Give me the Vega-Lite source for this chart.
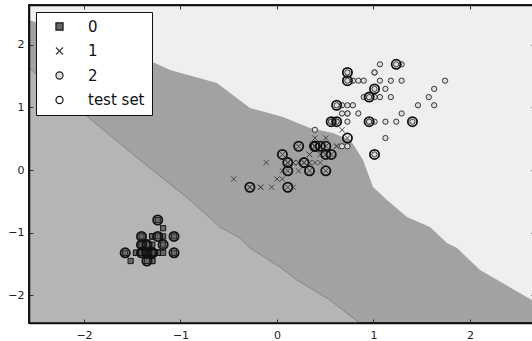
{
  "$schema": "https://vega.github.io/schema/vega-lite/v6.json",
  "width": 506,
  "height": 318,
  "autosize": "none",
  "padding": {"left": 29, "top": 5, "right": 0, "bottom": 18},
  "config": {
    "view": {"stroke": "#111111", "strokeWidth": 1.5, "fill": "#a2a2a2"},
    "font": "DejaVu Sans",
    "axis": {"title": null, "grid": false, "domain": true, "domainColor": "#111111", "domainWidth": 1.5, "tickSize": -4, "tickColor": "#333333", "tickWidth": 1, "labelFont": "DejaVu Sans", "labelFontSize": 11, "labelColor": "#222222"},
    "legend": {"orient": "top-left", "offset": 7, "fillColor": "#ffffff", "strokeColor": "#111111", "padding": 7, "labelFontSize": 15, "labelFont": "DejaVu Sans", "labelColor": "#111111", "symbolSize": 50, "symbolStrokeWidth": 1.2, "rowPadding": 8.5, "labelOffset": 21, "symbolOffset": 9, "cornerRadius": 0, "zindex": 2}
  },
  "datasets": {
    "frame": [{"x0": -2.57, "x1": 2.674, "y0": -2.44, "y1": 2.632}],
    "b01": [{"x":-2.57,"y":1.627},{"x":-2.010,"y":0.909},{"x":-1.420,"y":0.159},{"x":-0.902,"y":-0.478},{"x":-0.591,"y":-0.909},{"x":-0.383,"y":-1.085},{"x":-0.280,"y":-1.244},{"x":0.031,"y":-1.547},{"x":0.207,"y":-1.754},{"x":0.549,"y":-2.073},{"x":0.88,"y":-2.47}],
    "b12": [{"x":-2.57,"y":2.392},{"x":-1.264,"y":1.707},{"x":-1.109,"y":1.595},{"x":-0.622,"y":1.388},{"x":-0.280,"y":0.989},{"x":0.062,"y":0.845},{"x":0.342,"y":0.670},{"x":0.580,"y":0.590},{"x":0.756,"y":0.478},{"x":0.808,"y":0.367},{"x":0.891,"y":0.159},{"x":0.995,"y":-0.271},{"x":1.140,"y":-0.478},{"x":1.347,"y":-0.750},{"x":1.585,"y":-0.909},{"x":1.762,"y":-1.164},{"x":1.865,"y":-1.244},{"x":2.104,"y":-1.595},{"x":2.642,"y":-2.073},{"x":2.70,"y":-2.13}],
    "pts": [
      {"x":-1.348,"y":-1.320,"c":"0","t":0},{"x":-1.348,"y":-1.320,"c":"0","t":0},{"x":-1.404,"y":-1.320,"c":"0","t":1},{"x":-1.292,"y":-1.320,"c":"0","t":0},{"x":-1.348,"y":-1.320,"c":"0","t":0},
      {"x":-1.180,"y":-1.059,"c":"0","t":0},{"x":-1.348,"y":-1.190,"c":"0","t":0},{"x":-1.292,"y":-1.320,"c":"0","t":1},{"x":-1.348,"y":-1.320,"c":"0","t":1},{"x":-1.292,"y":-1.451,"c":"0","t":0},
      {"x":-1.292,"y":-1.320,"c":"0","t":1},{"x":-1.236,"y":-1.320,"c":"0","t":0},{"x":-1.348,"y":-1.451,"c":"0","t":0},{"x":-1.517,"y":-1.451,"c":"0","t":0},{"x":-1.461,"y":-1.320,"c":"0","t":0},
      {"x":-1.292,"y":-1.059,"c":"0","t":0},{"x":-1.404,"y":-1.059,"c":"0","t":1},{"x":-1.348,"y":-1.190,"c":"0","t":0},{"x":-1.180,"y":-1.190,"c":"0","t":1},{"x":-1.292,"y":-1.190,"c":"0","t":0},
      {"x":-1.180,"y":-1.320,"c":"0","t":0},{"x":-1.292,"y":-1.059,"c":"0","t":0},{"x":-1.573,"y":-1.320,"c":"0","t":1},{"x":-1.180,"y":-0.928,"c":"0","t":0},{"x":-1.067,"y":-1.320,"c":"0","t":1},
      {"x":-1.236,"y":-1.320,"c":"0","t":0},{"x":-1.236,"y":-1.059,"c":"0","t":1},{"x":-1.292,"y":-1.320,"c":"0","t":1},{"x":-1.348,"y":-1.320,"c":"0","t":0},{"x":-1.236,"y":-1.320,"c":"0","t":0},
      {"x":-1.236,"y":-1.320,"c":"0","t":0},{"x":-1.292,"y":-1.059,"c":"0","t":0},{"x":-1.292,"y":-1.451,"c":"0","t":0},{"x":-1.348,"y":-1.320,"c":"0","t":1},{"x":-1.292,"y":-1.320,"c":"0","t":0},
      {"x":-1.461,"y":-1.320,"c":"0","t":0},{"x":-1.404,"y":-1.320,"c":"0","t":0},{"x":-1.348,"y":-1.451,"c":"0","t":1},{"x":-1.404,"y":-1.320,"c":"0","t":0},{"x":-1.292,"y":-1.320,"c":"0","t":0},
      {"x":-1.404,"y":-1.190,"c":"0","t":1},{"x":-1.404,"y":-1.190,"c":"0","t":0},{"x":-1.404,"y":-1.320,"c":"0","t":0},{"x":-1.236,"y":-0.797,"c":"0","t":1},{"x":-1.067,"y":-1.059,"c":"0","t":1},
      {"x":-1.348,"y":-1.190,"c":"0","t":1},{"x":-1.236,"y":-1.320,"c":"0","t":0},{"x":-1.348,"y":-1.320,"c":"0","t":0},{"x":-1.292,"y":-1.320,"c":"0","t":0},{"x":-1.348,"y":-1.320,"c":"0","t":0},
      {"x":0.506,"y":0.248,"c":"1","t":0},{"x":0.393,"y":0.379,"c":"1","t":1},{"x":0.618,"y":0.379,"c":"1","t":0},{"x":0.112,"y":0.118,"c":"1","t":0},{"x":0.449,"y":0.379,"c":"1","t":1},
      {"x":0.393,"y":0.118,"c":"1","t":0},{"x":0.506,"y":0.510,"c":"1","t":0},{"x":-0.281,"y":-0.275,"c":"1","t":0},{"x":0.449,"y":0.118,"c":"1","t":0},{"x":0.056,"y":0.248,"c":"1","t":1},
      {"x":-0.169,"y":-0.275,"c":"1","t":0},{"x":0.225,"y":0.379,"c":"1","t":1},{"x":0.112,"y":-0.275,"c":"1","t":1},{"x":0.506,"y":0.248,"c":"1","t":1},{"x":-0.112,"y":0.118,"c":"1","t":0},
      {"x":0.337,"y":0.248,"c":"1","t":0},{"x":0.393,"y":0.379,"c":"1","t":1},{"x":0.169,"y":-0.275,"c":"1","t":0},{"x":0.393,"y":0.379,"c":"1","t":0},{"x":0.056,"y":-0.144,"c":"1","t":0},
      {"x":0.562,"y":0.771,"c":"1","t":0},{"x":0.112,"y":0.118,"c":"1","t":1},{"x":0.618,"y":0.379,"c":"1","t":0},{"x":0.506,"y":-0.013,"c":"1","t":1},{"x":0.281,"y":0.118,"c":"1","t":0},
      {"x":0.337,"y":0.248,"c":"1","t":0},{"x":0.562,"y":0.248,"c":"1","t":1},{"x":0.674,"y":0.641,"c":"1","t":0},{"x":0.393,"y":0.379,"c":"1","t":1},{"x":-0.169,"y":-0.275,"c":"1","t":0},
      {"x":0.000,"y":-0.144,"c":"1","t":0},{"x":-0.056,"y":-0.275,"c":"1","t":0},{"x":0.056,"y":-0.013,"c":"1","t":0},{"x":0.730,"y":0.510,"c":"1","t":1},{"x":0.393,"y":0.379,"c":"1","t":1},
      {"x":0.393,"y":0.510,"c":"1","t":0},{"x":0.506,"y":0.379,"c":"1","t":1},{"x":0.337,"y":0.118,"c":"1","t":0},{"x":0.169,"y":0.118,"c":"1","t":0},{"x":0.112,"y":0.118,"c":"1","t":0},
      {"x":0.337,"y":-0.013,"c":"1","t":1},{"x":0.449,"y":0.248,"c":"1","t":0},{"x":0.112,"y":-0.013,"c":"1","t":1},{"x":-0.281,"y":-0.275,"c":"1","t":1},{"x":0.225,"y":0.118,"c":"1","t":0},
      {"x":0.225,"y":-0.013,"c":"1","t":0},{"x":0.225,"y":0.118,"c":"1","t":0},{"x":0.281,"y":0.118,"c":"1","t":1},{"x":-0.449,"y":-0.144,"c":"1","t":0},{"x":0.169,"y":0.118,"c":"1","t":0},
      {"x":1.236,"y":1.686,"c":"2","t":1},{"x":0.730,"y":0.902,"c":"2","t":0},{"x":1.180,"y":1.163,"c":"2","t":0},{"x":1.011,"y":0.771,"c":"2","t":0},{"x":1.124,"y":1.294,"c":"2","t":0},
      {"x":1.573,"y":1.163,"c":"2","t":0},{"x":0.393,"y":0.641,"c":"2","t":0},{"x":1.404,"y":0.771,"c":"2","t":1},{"x":1.124,"y":0.771,"c":"2","t":0},{"x":1.292,"y":1.686,"c":"2","t":0},
      {"x":0.730,"y":1.033,"c":"2","t":0},{"x":0.843,"y":0.902,"c":"2","t":0},{"x":0.955,"y":1.163,"c":"2","t":1},{"x":0.674,"y":1.033,"c":"2","t":0},{"x":0.730,"y":1.556,"c":"2","t":1},
      {"x":0.843,"y":1.425,"c":"2","t":0},{"x":0.955,"y":0.771,"c":"2","t":0},{"x":1.629,"y":1.294,"c":"2","t":0},{"x":1.742,"y":1.425,"c":"2","t":0},{"x":0.674,"y":0.379,"c":"2","t":0},
      {"x":1.067,"y":1.425,"c":"2","t":0},{"x":0.618,"y":1.033,"c":"2","t":1},{"x":1.629,"y":1.033,"c":"2","t":0},{"x":0.618,"y":0.771,"c":"2","t":0},{"x":1.067,"y":1.163,"c":"2","t":0},
      {"x":1.236,"y":0.771,"c":"2","t":0},{"x":0.562,"y":0.771,"c":"2","t":1},{"x":0.618,"y":0.771,"c":"2","t":1},{"x":1.011,"y":1.163,"c":"2","t":0},{"x":1.124,"y":0.510,"c":"2","t":0},
      {"x":1.292,"y":0.902,"c":"2","t":0},{"x":1.461,"y":1.033,"c":"2","t":0},{"x":1.011,"y":1.294,"c":"2","t":1},{"x":0.730,"y":0.379,"c":"2","t":0},{"x":1.011,"y":0.248,"c":"2","t":1},
      {"x":1.292,"y":1.425,"c":"2","t":0},{"x":1.011,"y":1.556,"c":"2","t":0},{"x":0.955,"y":0.771,"c":"2","t":1},{"x":0.562,"y":0.771,"c":"2","t":0},{"x":0.899,"y":1.163,"c":"2","t":0},
      {"x":1.011,"y":1.556,"c":"2","t":0},{"x":0.730,"y":1.425,"c":"2","t":1},{"x":0.730,"y":0.902,"c":"2","t":0},{"x":1.180,"y":1.425,"c":"2","t":0},{"x":1.067,"y":1.686,"c":"2","t":0},
      {"x":0.787,"y":1.425,"c":"2","t":0},{"x":0.674,"y":0.902,"c":"2","t":0},{"x":0.787,"y":1.033,"c":"2","t":0},{"x":0.899,"y":1.425,"c":"2","t":0},{"x":0.730,"y":0.771,"c":"2","t":0}
    ]
  },
  "resolve": {"axis": {"x": "independent", "y": "independent"}},
  "layer": [
    {
      "data": {"name": "b01"},
      "mark": {"type": "area", "color": "#b5b5b5", "clip": true, "interpolate": "linear"},
      "encoding": {
        "x": {"field": "x", "type": "quantitative", "scale": {"domain": [-2.57, 2.674], "nice": false, "zero": false}, "axis": {"orient": "bottom", "values": [-2, -1, 0, 1, 2], "format": "d", "labelPadding": 10, "zindex": 1}},
        "y": {"field": "y", "type": "quantitative", "scale": {"domain": [-2.44, 2.632], "nice": false, "zero": false}, "axis": {"orient": "left", "values": [-2, -1, 0, 1, 2], "format": "d", "labelPadding": 9, "zindex": 1}},
        "y2": {"datum": -2.6}
      }
    },
    {
      "data": {"name": "b12"},
      "mark": {"type": "area", "color": "#efefef", "clip": true, "interpolate": "linear"},
      "encoding": {
        "x": {"field": "x", "type": "quantitative", "axis": {"orient": "top", "values": [-2, -1, 0, 1, 2], "labels": false, "zindex": 1}},
        "y": {"field": "y", "type": "quantitative", "axis": {"orient": "right", "values": [-2, -1, 0, 1, 2], "labels": false, "zindex": 1}},
        "y2": {"datum": 2.8}
      }
    },
    {
      "data": {"name": "b01"},
      "mark": {"type": "line", "color": "#7c7c7c", "strokeWidth": 0.8, "clip": true},
      "encoding": {
        "x": {"field": "x", "type": "quantitative", "axis": null},
        "y": {"field": "y", "type": "quantitative", "axis": null}
      }
    },
    {
      "data": {"name": "pts"},
      "mark": {"type": "point", "size": 28, "strokeWidth": 0.9, "opacity": 1},
      "encoding": {
        "x": {"field": "x", "type": "quantitative", "axis": null},
        "y": {"field": "y", "type": "quantitative", "axis": null},
        "shape": {"field": "c", "type": "nominal", "scale": {"domain": ["0", "1", "2", "test set"], "range": ["square", "M-1,-1L1,1M-1,1L1,-1", "circle", "circle"]}, "legend": {"title": null}},
        "fill": {"field": "c", "type": "nominal", "scale": {"domain": ["0", "1", "2", "test set"], "range": ["#666666", "transparent", "#dddddd", "transparent"]}, "legend": {"title": null}},
        "stroke": {"field": "c", "type": "nominal", "scale": {"domain": ["0", "1", "2", "test set"], "range": ["#111111", "#3c3c3c", "#222222", "#111111"]}, "legend": {"title": null}}
      }
    },
    {
      "data": {"name": "pts"},
      "transform": [{"filter": "datum.t == 1"}],
      "mark": {"type": "point", "size": 85, "strokeWidth": 1.8, "opacity": 1},
      "encoding": {
        "x": {"field": "x", "type": "quantitative", "axis": null},
        "y": {"field": "y", "type": "quantitative", "axis": null},
        "shape": {"datum": "test set"},
        "fill": {"datum": "test set"},
        "stroke": {"datum": "test set"}
      }
    },
    {
      "data": {"name": "frame"},
      "mark": {"type": "rect", "filled": false, "stroke": "#111111", "strokeWidth": 1.5, "fill": null},
      "encoding": {
        "x": {"field": "x0", "type": "quantitative", "axis": null},
        "x2": {"field": "x1"},
        "y": {"field": "y0", "type": "quantitative", "axis": null},
        "y2": {"field": "y1"}
      }
    }
  ]
}
